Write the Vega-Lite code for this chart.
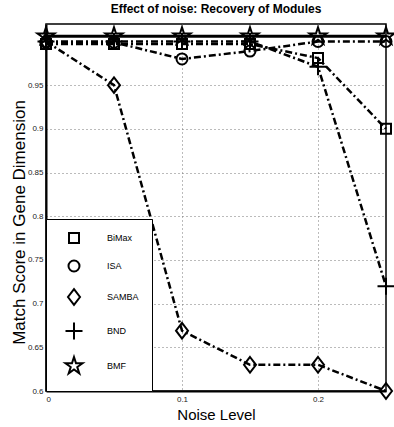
{
  "$schema": "https://vega.github.io/schema/vega-lite/v6.json",
  "width": 340,
  "height": 367,
  "autosize": {"type": "none"},
  "padding": {"left": 46, "top": 24, "right": 8, "bottom": 36},
  "config": {
    "font": "Liberation Sans",
    "view": {"stroke": "black", "strokeWidth": 1.5},
    "axis": {"labelFont": "Liberation Sans", "titleFont": "Liberation Sans"}
  },
  "title": {
    "text": "Effect of noise: Recovery of Modules",
    "fontSize": 12,
    "fontWeight": "bold",
    "font": "Liberation Sans",
    "anchor": "middle",
    "frame": "group",
    "offset": 7,
    "color": "black"
  },
  "data": {
    "values": [
      {"series": "BiMax", "x": 0, "y": 0.997},
      {"series": "BiMax", "x": 0.05, "y": 0.997},
      {"series": "BiMax", "x": 0.1, "y": 0.997},
      {"series": "BiMax", "x": 0.15, "y": 0.997},
      {"series": "BiMax", "x": 0.2, "y": 0.981},
      {"series": "BiMax", "x": 0.25, "y": 0.9},
      {"series": "ISA", "x": 0, "y": 0.999},
      {"series": "ISA", "x": 0.05, "y": 0.999},
      {"series": "ISA", "x": 0.1, "y": 0.98},
      {"series": "ISA", "x": 0.15, "y": 0.989},
      {"series": "ISA", "x": 0.2, "y": 1.0},
      {"series": "ISA", "x": 0.25, "y": 1.0},
      {"series": "SAMBA", "x": 0, "y": 1.0},
      {"series": "SAMBA", "x": 0.05, "y": 0.95},
      {"series": "SAMBA", "x": 0.1, "y": 0.669},
      {"series": "SAMBA", "x": 0.15, "y": 0.63},
      {"series": "SAMBA", "x": 0.2, "y": 0.63},
      {"series": "SAMBA", "x": 0.25, "y": 0.6},
      {"series": "BND", "x": 0, "y": 1.0},
      {"series": "BND", "x": 0.05, "y": 1.0},
      {"series": "BND", "x": 0.1, "y": 1.0},
      {"series": "BND", "x": 0.15, "y": 1.0},
      {"series": "BND", "x": 0.2, "y": 0.971},
      {"series": "BND", "x": 0.25, "y": 0.72},
      {"series": "BMF", "x": 0, "y": 1.006},
      {"series": "BMF", "x": 0.05, "y": 1.006},
      {"series": "BMF", "x": 0.1, "y": 1.006},
      {"series": "BMF", "x": 0.15, "y": 1.006},
      {"series": "BMF", "x": 0.2, "y": 1.006},
      {"series": "BMF", "x": 0.25, "y": 1.006}
    ]
  },
  "encoding": {
    "x": {
      "field": "x",
      "type": "quantitative",
      "scale": {"domain": [0, 0.25], "nice": false, "zero": false},
      "axis": {
        "values": [0, 0.1, 0.2],
        "format": "~g",
        "grid": true,
        "gridDash": [1, 3],
        "gridColor": "#777",
        "gridWidth": 1,
        "ticks": false,
        "domainColor": "black",
        "domainWidth": 2,
        "labelFontSize": 8,
        "labelColor": "#222",
        "labelPadding": 4,
        "title": "Noise Level",
        "titleFontSize": 15,
        "titleFontWeight": "normal",
        "titleColor": "black",
        "titleY": 28,
        "titleBaseline": "alphabetic"
      }
    },
    "y": {
      "field": "y",
      "type": "quantitative",
      "scale": {"domain": [0.6, 1.02], "nice": false, "zero": false},
      "axis": {
        "values": [0.6, 0.65, 0.7, 0.75, 0.8, 0.85, 0.9, 0.95],
        "format": ".2~f",
        "grid": true,
        "gridDash": [1, 3],
        "gridColor": "#777",
        "gridWidth": 1,
        "ticks": false,
        "domainColor": "black",
        "domainWidth": 2,
        "labelFontSize": 8,
        "labelColor": "#222",
        "labelPadding": 3,
        "title": "Match Score in Gene Dimension",
        "titleFontSize": 17,
        "titleFontWeight": "normal",
        "titleColor": "black",
        "titleX": -22,
        "titleY": 198,
        "titleBaseline": "alphabetic"
      }
    }
  },
  "layer": [
    {
      "transform": [{"filter": "datum.series !== 'BMF'"}],
      "mark": {"type": "line", "color": "black", "strokeWidth": 2.5, "strokeDash": [7, 3, 2, 3]},
      "encoding": {
        "detail": {"field": "series"}
      }
    },
    {
      "transform": [{"filter": "datum.series === 'BMF'"}],
      "mark": {"type": "line", "color": "black", "strokeWidth": 3},
      "encoding": {}
    },
    {
      "mark": {"type": "point", "filled": false, "color": "black", "strokeWidth": 2, "opacity": 1, "size": 100},
      "encoding": {
        "shape": {
          "field": "series",
          "type": "nominal",
          "scale": {
            "domain": ["BiMax", "ISA", "SAMBA", "BND", "BMF"],
            "range": [
              "M-1,-1H1V1H-1Z",
              "M1.1,0A1.1,1.1,0,1,1,-1.1,0A1.1,1.1,0,1,1,1.1,0Z",
              "M0,-1.56L1.2,0L0,1.56L-1.2,0Z",
              "M-1.7,0H1.7M0,-1.7V1.7",
              "M0,-1.8L0.404,-0.556L1.712,-0.556L0.653,0.212L1.058,1.456L0,0.688L-1.058,1.456L-0.653,0.212L-1.712,-0.556L-0.404,-0.556Z"
            ]
          },
          "legend": {
            "title": null,
            "orient": "bottom-left",
            "offset": 0,
            "padding": 13,
            "rowPadding": 9,
            "strokeColor": "black",
            "fillColor": "white",
            "labelFontSize": 9,
            "labelFont": "Liberation Sans",
            "labelColor": "black",
            "symbolSize": 100,
            "symbolStrokeWidth": 2,
            "symbolStrokeColor": "black",
            "symbolFillColor": "transparent",
            "symbolOffset": 9,
            "labelOffset": 27
          }
        }
      }
    }
  ]
}
